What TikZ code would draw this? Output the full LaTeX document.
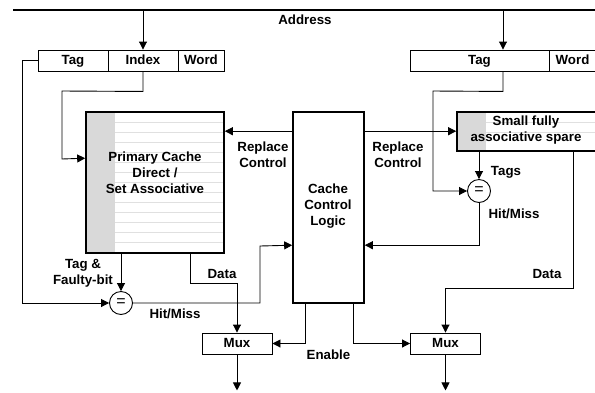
\documentclass[tikz,border=0pt]{standalone}
\usepackage{fontspec}
\setmainfont{Liberation Sans}
\usetikzlibrary{arrows.meta,calc}
\newcommand\dfont{\fontsize{13.3}{16}\selectfont\bfseries}
\begin{document}
\begin{tikzpicture}[x=1pt,y=-1pt,
  conn/.style={line width=0.9pt},
  arr/.style={conn,-{Triangle[length=8pt,width=8pt]}},
  cell/.style={draw,line width=0.9pt,minimum height=21pt,inner sep=0pt,font=\dfont,text height=9.5pt,text depth=2.5pt},
  bigbox/.style={draw,line width=1.6pt,inner sep=0pt},
  lbl/.style={inner sep=0pt,align=center,font=\dfont},
  eq/.style={draw,circle,line width=0.9pt,minimum size=23pt,inner sep=0pt,fill=white,font=\fontsize{16}{16}\selectfont},
  stripe/.style={fill=black!15},
  rule/.style={draw=black!12,line width=0.5pt}
]
\useasboundingbox (0,0) rectangle (595,392);
\fill[white] (0,0) rectangle (595,392);
% bus
\coordinate (busL) at (13,10);
\coordinate (busR) at (600,10);
\draw[line width=2.5pt] (busL) -- (busR);
\node[lbl] (addr) at (305,20) {Address};
% left address register
\node[cell,minimum width=70pt] (tagL) at (73,60.5) {Tag};
\node[cell,minimum width=70pt] (indexL) at (143,60.5) {Index};
\node[cell,minimum width=46pt] (wordL) at (201,60.5) {Word};
% right address register
\node[cell,minimum width=139pt] (tagR) at (479.5,60.5) {Tag};
\node[cell,minimum width=47pt] (wordR) at (572.5,60.5) {Word};
% primary cache
\fill[white] (86,112) rectangle (224,253);
\fill[stripe] (86,112) rectangle (115,253);
\foreach \yy in {122,132,...,242} \draw[rule] (115,\yy) -- (224,\yy);
\node[bigbox,minimum width=138pt,minimum height=141pt] (cache) at (155,182.5) {};
\node[lbl] (cachetxt) at (155,173) {Primary Cache\\Direct /\\Set Associative};
% cache control logic
\node[bigbox,minimum width=71pt,minimum height=191pt] (ccl) at (328.5,207.5) {};
\node[lbl] (ccltxt) at (328,206) {Cache\\Control\\Logic};
% spare
\fill[stripe] (457,112) rectangle (486,151);
\foreach \yy in {122,132} \draw[rule] (486,\yy) -- (600,\yy);
\node[bigbox,minimum width=139pt,minimum height=39pt] (spare) at (526.5,131.5) {};
\node[lbl] (sparetxt) at (526,130) {Small fully\\associative spare};
% comparators
\node[eq] (eqL) at (121,303) {=};
\node[eq] (eqR) at (479,191) {=};
% muxes
\node[cell,minimum width=70pt] (muxL) at (237,343.5) {Mux};
\node[cell,minimum width=70pt] (muxR) at (445.5,343.5) {Mux};
% connectors
\draw[arr] (indexL |- busL) -- (indexL.north);
\draw[arr] ([xshift=23.5pt]tagR.north |- busL) -- ([xshift=23.5pt]tagR.north);
\draw[arr] (indexL.south) -- ++(0,20) -- (62,91) -- (62,159) -- ([yshift=-47pt]cache.north west);
\draw[arr] (tagL.west) -- (22,60.5) -- (22,303) -- (eqL.west);
\draw[arr] ([xshift=23.5pt]tagR.south) -- ++(0,20) -- (433,91) -- (433,191) -- (eqR.west);
\draw[arr] ([yshift=-20pt]ccl.north west) -- ([yshift=-20pt]cache.north east);
\draw[arr] ([yshift=-20pt]ccl.north east) -- ([yshift=-20pt]spare.north west);
\draw[arr] (spare.south -| eqR) -- (eqR.north);
\draw[arr] (eqR.south) |- ([yshift=-134pt]ccl.north east);
\draw[arr] ([xshift=46.5pt]spare.south) -- ++(0,137) -| (muxR.north);
\draw[arr] (cache.south -| eqL) -- (eqL.north);
\draw[arr] (eqL.east) -| (260,246) -- ([yshift=-134pt]ccl.north west);
\draw[arr] ([xshift=35pt]cache.south) -- ++(0,30) -| (muxL.north);
\draw[arr] ([xshift=-23.5pt]ccl.south) |- (muxL.east);
\draw[arr] ([xshift=24.5pt]ccl.south) |- (muxR.west);
\draw[arr] (muxL.south) -- ++(0,36);
\draw[arr] (muxR.south) -- ++(0,36);
% labels
\node[lbl] (rc1) at (263,155) {Replace\\Control};
\node[lbl] (rc2) at (398,155) {Replace\\Control};
\node[lbl] (tags) at (506,172) {Tags};
\node[lbl] (hmR) at (514,214) {Hit/Miss};
\node[lbl] (dataR) at (547,274) {Data};
\node[lbl] (dataL) at (222,274) {Data};
\node[lbl] (tf) at (83,273) {Tag \&\\Faulty-bit};
\node[lbl] (hmL) at (175,314) {Hit/Miss};
\node[lbl] (en) at (328.5,355) {Enable};
\end{tikzpicture}
\end{document}
